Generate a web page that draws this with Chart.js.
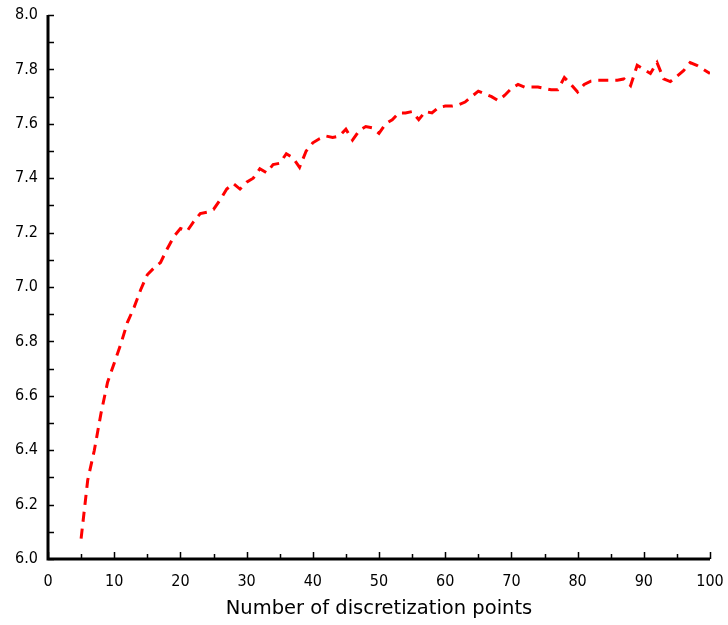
<!DOCTYPE html>
<html>
<head>
<meta charset="utf-8">
<script src="https://cdn.jsdelivr.net/npm/chart.js@4/dist/chart.umd.min.js"></script>
<style>
  body { margin: 0; background: #fff; }
  canvas { display: block; }
</style>
</head>
<body>
<canvas id="graphique" width="728" height="625"></canvas>
<script>
// points de discrétisation (5..100)
const pointsX = [
  5, 6, 7, 8, 9, 10, 11, 12, 13, 14, 15, 16, 17, 18, 19, 20, 21, 22, 23, 24,
  25, 26, 27, 28, 29, 30, 31, 32, 33, 34, 35, 36, 37, 38, 39, 40, 41, 42, 43, 44,
  45, 46, 47, 48, 49, 50, 51, 52, 53, 54, 55, 56, 57, 58, 59, 60, 61, 62, 63, 64,
  65, 66, 67, 68, 69, 70, 71, 72, 73, 74, 75, 76, 77, 78, 79, 80, 81, 82, 83, 84,
  85, 86, 87, 88, 89, 90, 91, 92, 93, 94, 95, 96, 97, 98, 99, 100
];
// valeurs
const valeursY = [
  6.075, 6.29, 6.40, 6.535, 6.65, 6.72, 6.79, 6.87, 6.925, 6.99,
  7.045, 7.07, 7.09, 7.14, 7.185, 7.215, 7.205, 7.24, 7.27, 7.275,
  7.285, 7.32, 7.36, 7.38, 7.36, 7.385, 7.40, 7.435, 7.42, 7.45,
  7.455, 7.49, 7.475, 7.44, 7.50, 7.53, 7.545, 7.555, 7.55, 7.555,
  7.58, 7.54, 7.575, 7.59, 7.585, 7.565, 7.60, 7.615, 7.64, 7.64,
  7.645, 7.615, 7.645, 7.64, 7.66, 7.665, 7.665, 7.67, 7.68, 7.70,
  7.72, 7.71, 7.70, 7.685, 7.705, 7.73, 7.745, 7.735, 7.735, 7.735,
  7.73, 7.725, 7.725, 7.77, 7.745, 7.717, 7.745, 7.757, 7.76, 7.76,
  7.76, 7.76, 7.765, 7.74, 7.815, 7.80, 7.785, 7.825, 7.765, 7.755,
  7.775, 7.795, 7.825, 7.815, 7.80, 7.785
];

const ticksX = [0, 10, 20, 30, 40, 50, 60, 70, 80, 90, 100];
const ticksY = [6.0, 6.2, 6.4, 6.6, 6.8, 7.0, 7.2, 7.4, 7.6, 7.8, 8.0];
const titreX = "Number of discretization points";

const policeTicks = "'DejaVu Sans Condensed', 'DejaVu Sans', sans-serif";
const policeTitre = "'DejaVu Sans', sans-serif";

// petites graduations tournées vers l'intérieur + axes
const graduations = {
  id: "graduations",
  afterDraw(chart) {
    const ctx = chart.ctx;
    const sx = chart.scales.x;
    const sy = chart.scales.y;
    const area = chart.chartArea;
    ctx.save();
    ctx.strokeStyle = "#000";
    ctx.lineWidth = 1.5;
    ctx.beginPath();
    for (let v = 0; v <= 100; v += 5) {
      const px = Math.round(sx.getPixelForValue(v)) + 0.5;
      const len = v % 10 === 0 ? 7 : 5;
      ctx.moveTo(px, area.bottom);
      ctx.lineTo(px, area.bottom - len);
    }
    for (let i = 0; i <= 20; i++) {
      const py = Math.round(sy.getPixelForValue(6 + i * 0.1)) + 0.5;
      ctx.moveTo(area.left, py);
      ctx.lineTo(area.left + 6, py);
    }
    ctx.stroke();
    ctx.lineWidth = 3;
    ctx.beginPath();
    ctx.moveTo(area.left, area.top);
    ctx.lineTo(area.left, area.bottom);
    ctx.lineTo(area.right, area.bottom);
    ctx.stroke();
    ctx.restore();
  }
};

const data = {
  datasets: [{
    data: pointsX.map((x, i) => ({ x: x, y: valeursY[i] })),
    borderColor: "rgb(255, 0, 0)",
    borderWidth: 3,
    borderDash: [10, 7],
    pointRadius: 0,
    tension: 0,
    fill: false
  }]
};

const config = {
  type: "line",
  data: data,
  options: {
    responsive: false,
    animation: false,
    layout: { padding: { top: 15, right: 18, left: 0, bottom: 0 } },
    plugins: { legend: { display: false }, tooltip: { enabled: false } },
    scales: {
      x: {
        type: "linear",
        min: 0,
        max: 100,
        afterBuildTicks: (axis) => { axis.ticks = ticksX.map(v => ({ value: v })); },
        afterFit: (axis) => {
          axis.height = 66;
          axis.paddingLeft = 0;
          axis.paddingRight = 0;
        },
        grid: { display: false },
        border: { display: false },
        ticks: {
          color: "#000",
          padding: 5,
          maxRotation: 0,
          font: { family: policeTicks, size: 16 }
        },
        title: {
          display: true,
          text: titreX,
          color: "#000",
          padding: { top: 13 },
          font: { family: policeTitre, size: 19.5 }
        }
      },
      y: {
        type: "linear",
        min: 6,
        max: 8,
        afterBuildTicks: (axis) => { axis.ticks = ticksY.map(v => ({ value: v })); },
        afterFit: (axis) => {
          axis.width = 48;
          axis.paddingTop = 0;
          axis.paddingBottom = 0;
        },
        grid: { display: false },
        border: { display: false },
        ticks: {
          color: "#000",
          padding: 2,
          font: { family: policeTicks, size: 16 },
          callback: (v) => Number(v).toFixed(1)
        }
      }
    }
  },
  plugins: [graduations]
};

new Chart(document.querySelector("#graphique"), config);
</script>
</body>
</html>
